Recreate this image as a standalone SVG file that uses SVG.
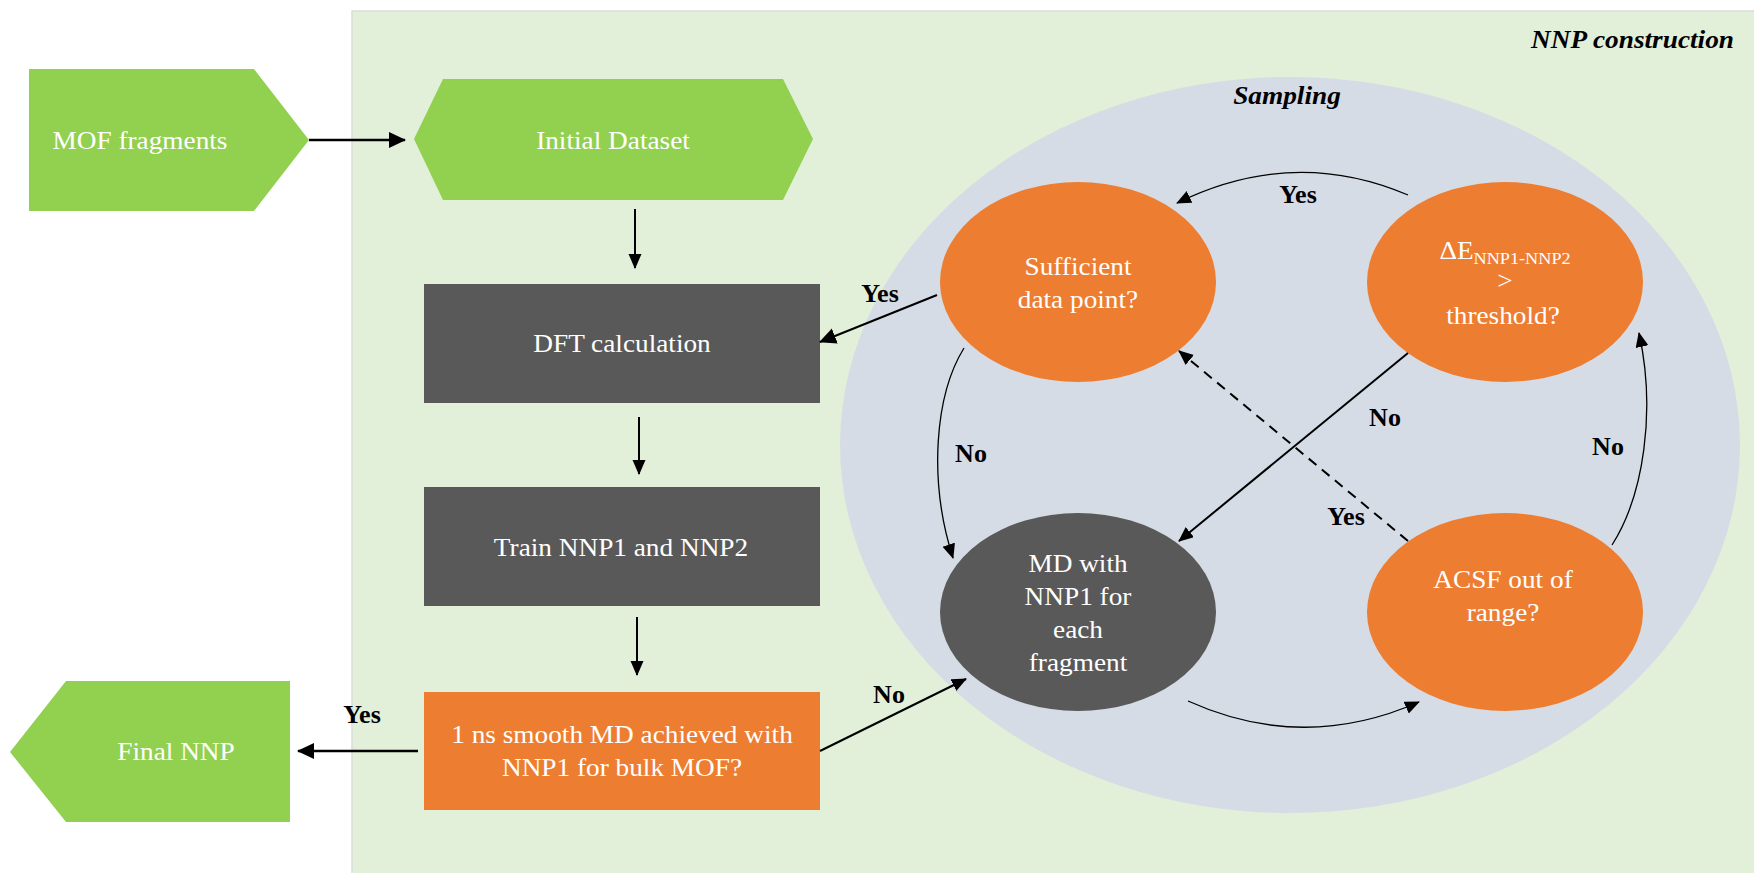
<svg xmlns="http://www.w3.org/2000/svg" width="1754" height="873" viewBox="0 0 1754 873">
  <style>
    .t { font-family: "Liberation Serif", "Times New Roman", serif; font-size: 25.5px; fill: #ffffff; text-anchor: middle; }
    .b { font-family: "Liberation Serif", "Times New Roman", serif; font-size: 26px; font-weight: bold; fill: #000000; text-anchor: middle; }
    .bi { font-family: "Liberation Serif", "Times New Roman", serif; font-size: 26px; font-weight: bold; font-style: italic; fill: #000000; }
    .green { fill: #92D050; }
    .orange { fill: #ED7D31; }
    .gray { fill: #595959; }
    .ln { fill: none; stroke: #000000; }
    .thick { stroke-width: 2.6; }
    .mid { stroke-width: 2; }
    .thin { stroke-width: 1.3; }
  </style>
  <defs>
    <marker id="arr" markerUnits="userSpaceOnUse" markerWidth="16" markerHeight="14" refX="14" refY="6.5" orient="auto">
      <path d="M0,0 L15,6.5 L0,13 z" fill="#000000"/>
    </marker>
    <marker id="arrL" markerUnits="userSpaceOnUse" markerWidth="18" markerHeight="17" refX="16" refY="8" orient="auto">
      <path d="M0,0 L17,8 L0,16 z" fill="#000000"/>
    </marker>
  </defs>

  <rect x="0" y="0" width="1754" height="873" fill="#ffffff"/>

  <g id="panel">
    <rect x="352" y="11" width="1410" height="870" fill="#E2F0D9" stroke="#dcdcdc" stroke-width="1.5"/>
    <text class="bi" text-anchor="end" transform="translate(1734,48) scale(1.05,1)">NNP construction</text>
  </g>

  <g id="sampling">
    <ellipse cx="1290" cy="445" rx="450" ry="368" fill="#D6DCE5"/>
    <text class="bi" text-anchor="middle" transform="translate(1287,104) scale(1.05,1)">Sampling</text>
  </g>

  <g id="mof-fragments">
    <polygon class="green" points="29,69 254,69 309,140 254,211 29,211"/>
    <text class="t" transform="translate(140,149) scale(1.07,1)">MOF fragments</text>
  </g>

  <g id="initial-dataset">
    <polygon class="green" points="414,139 443,79 783,79 813,139 783,200 443,200"/>
    <text class="t" transform="translate(613,149) scale(1.07,1)">Initial Dataset</text>
  </g>

  <g id="dft">
    <rect class="gray" x="424" y="284" width="396" height="119"/>
    <text class="t" transform="translate(622,352) scale(1.07,1)">DFT calculation</text>
  </g>

  <g id="train">
    <rect class="gray" x="424" y="487" width="396" height="119"/>
    <text class="t" transform="translate(621,556) scale(1.07,1)">Train NNP1 and NNP2</text>
  </g>

  <g id="smooth-md">
    <rect class="orange" x="424" y="692" width="396" height="118"/>
    <text class="t" transform="translate(622,743) scale(1.07,1)">1 ns smooth MD achieved with</text>
    <text class="t" transform="translate(622,776) scale(1.07,1)">NNP1 for bulk MOF?</text>
  </g>

  <g id="final-nnp">
    <polygon class="green" points="10,752 66,681 290,681 290,822 66,822"/>
    <text class="t" transform="translate(176,760) scale(1.07,1)">Final NNP</text>
  </g>

  <g id="sufficient">
    <ellipse class="orange" cx="1078" cy="282" rx="138" ry="100"/>
    <text class="t" transform="translate(1078,275) scale(1.07,1)">Sufficient</text>
    <text class="t" transform="translate(1078,308) scale(1.07,1)">data point?</text>
  </g>

  <g id="delta-e">
    <ellipse class="orange" cx="1505" cy="282" rx="138" ry="100"/>
    <text class="t" transform="translate(1505,259) scale(1.07,1)"><tspan>ΔE</tspan><tspan font-size="17" dy="5">NNP1-NNP2</tspan></text>
    <text class="t" transform="translate(1505,289) scale(1.07,1)">&gt;</text>
    <text class="t" transform="translate(1503,324) scale(1.07,1)">threshold?</text>
  </g>

  <g id="md-nnp1">
    <ellipse class="gray" cx="1078" cy="612" rx="138" ry="99"/>
    <text class="t" transform="translate(1078,572) scale(1.07,1)">MD with</text>
    <text class="t" transform="translate(1078,605) scale(1.07,1)">NNP1 for</text>
    <text class="t" transform="translate(1078,638) scale(1.07,1)">each</text>
    <text class="t" transform="translate(1078,671) scale(1.07,1)">fragment</text>
  </g>

  <g id="acsf">
    <ellipse class="orange" cx="1505" cy="612" rx="138" ry="99"/>
    <text class="t" transform="translate(1503,588) scale(1.07,1)">ACSF out of</text>
    <text class="t" transform="translate(1503,621) scale(1.07,1)">range?</text>
  </g>

  <g id="connectors">
    <line class="ln thick" x1="309" y1="140" x2="405" y2="140" marker-end="url(#arrL)"/>
    <line class="ln mid" x1="635" y1="209" x2="635" y2="268" marker-end="url(#arr)"/>
    <line class="ln mid" x1="639" y1="417" x2="639" y2="474" marker-end="url(#arr)"/>
    <line class="ln mid" x1="637" y1="617" x2="637" y2="675" marker-end="url(#arr)"/>
    <line class="ln thick" x1="418" y1="751" x2="298" y2="751" marker-end="url(#arrL)"/>
    <line class="ln mid" x1="937" y1="295" x2="820" y2="342" marker-end="url(#arrL)"/>
    <line class="ln mid" x1="820" y1="751" x2="966" y2="679" marker-end="url(#arr)"/>
    <line class="ln mid" x1="1408" y1="353" x2="1179" y2="541" marker-end="url(#arr)"/>
    <line class="ln mid" x1="1408" y1="541" x2="1179" y2="351" stroke-dasharray="10,7" marker-end="url(#arr)"/>
    <path class="ln thin" d="M1408,195 Q1293,146 1177,203" marker-end="url(#arr)"/>
    <path class="ln thin" d="M964,348 C935,395 928,480 953,558" marker-end="url(#arr)"/>
    <path class="ln thin" d="M1612,545 C1644,495 1656,410 1639,333" marker-end="url(#arr)"/>
    <path class="ln thin" d="M1188,701 Q1303,753 1419,702" marker-end="url(#arr)"/>

    <text class="b" x="1298" y="203">Yes</text>
    <text class="b" x="880" y="302">Yes</text>
    <text class="b" x="1385" y="426">No</text>
    <text class="b" x="1346" y="525">Yes</text>
    <text class="b" x="971" y="462">No</text>
    <text class="b" x="1608" y="455">No</text>
    <text class="b" x="889" y="703">No</text>
    <text class="b" x="362" y="723">Yes</text>
  </g>
</svg>
